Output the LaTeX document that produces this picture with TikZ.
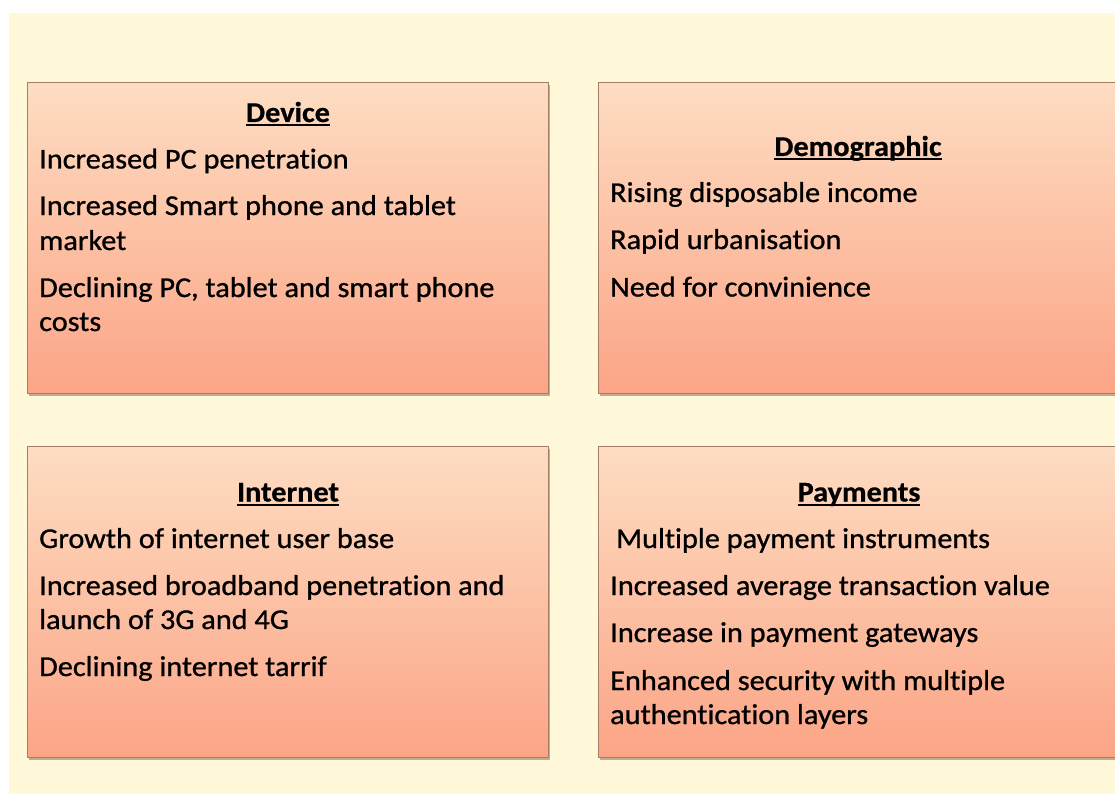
\documentclass[tikz,border=0pt]{standalone}
\usepackage{fontspec}
\setmainfont{Carlito}[FakeStretch=1.055, Ligatures=NoCommon,
  UprightFeatures={FakeBold=0.9}, BoldFeatures={FakeBold=0.6}]
\usetikzlibrary{shadows}

\definecolor{pagecream}{RGB}{255,249,218}
\definecolor{paneltop}{RGB}{253,221,194}
\definecolor{panelbottom}{RGB}{252,164,134}
\definecolor{panelline}{RGB}{165,125,105}
\definecolor{shadowbrown}{RGB}{120,80,60}

% heading underline at a fixed depth, crossing the descenders
\newcommand\headul[1]{\setbox0\hbox{#1}\rlap{\rule[-4pt]{\wd0}{1.8pt}}\box0}

\tikzset{
  panel/.style={draw=panelline, line width=0.8pt, top color=paneltop,
    bottom color=panelbottom, rectangle, inner sep=0pt, anchor=north west,
    minimum width=521pt, minimum height=311pt,
    drop shadow={shadow xshift=1.5pt, shadow yshift=-2.5pt,
      fill=shadowbrown, opacity=0.45}},
  item/.style={anchor=base west, inner sep=0pt, text=black,
    font=\fontsize{28.7}{34.5}\selectfont},
  head/.style={anchor=base, inner sep=0pt, text=black,
    font=\fontsize{28.7}{34.5}\selectfont\bfseries},
}

\begin{document}
\begin{tikzpicture}[x=1pt, y=-1pt]
  \useasboundingbox (0,0) rectangle (1115,794);
  \fill[white] (0,0) rectangle (1115,794);
  \fill[pagecream] (9,13) rectangle (1115,794);

  % the four panels
  \node[panel] (device) at (27,82) {};
  \node[panel] (demo)   at (598,82) {};
  \node[panel] (net)    at (27,446) {};
  \node[panel] (pay)    at (598,446) {};

  % Device
  \node[head] (dh) at (288,122) {\headul{Device}};
  \node[item] (d1) at (39,168.5) {Increased PC penetration};
  \node[item] (d2) at (39,215) {Increased Smart phone and tablet};
  \node[item] (d3) at (39,250) {market};
  \node[item] (d4) at (39,297) {Declining PC, tablet and smart phone};
  \node[item] (d5) at (39,331) {costs};

  % Demographic
  \node[head] (gh) at (858,156) {\headul{Demographic}};
  \node[item] (g1) at (610,202) {Rising disposable income};
  \node[item] (g2) at (610,249) {Rapid urbanisation};
  \node[item] (g3) at (610,296.5) {Need for convinience};

  % Internet
  \node[head] (nh) at (288,501.5) {\headul{Internet}};
  \node[item] (n1) at (39,548) {Growth of internet user base};
  \node[item] (n2) at (39,595) {Increased broadband penetration and};
  \node[item] (n3) at (39,629) {launch of 3G and 4G};
  \node[item] (n4) at (39,676) {Declining internet tarrif};

  % Payments
  \node[head] (ph) at (859,501.5) {\headul{Payments}};
  \node[item] (p1) at (616,548) {Multiple payment instruments};
  \node[item] (p2) at (610,595) {Increased average transaction value};
  \node[item] (p3) at (610,642) {Increase in payment gateways};
  \node[item] (p4) at (610,690) {Enhanced security with multiple};
  \node[item] (p5) at (610,724) {authentication layers};
\end{tikzpicture}
\end{document}
